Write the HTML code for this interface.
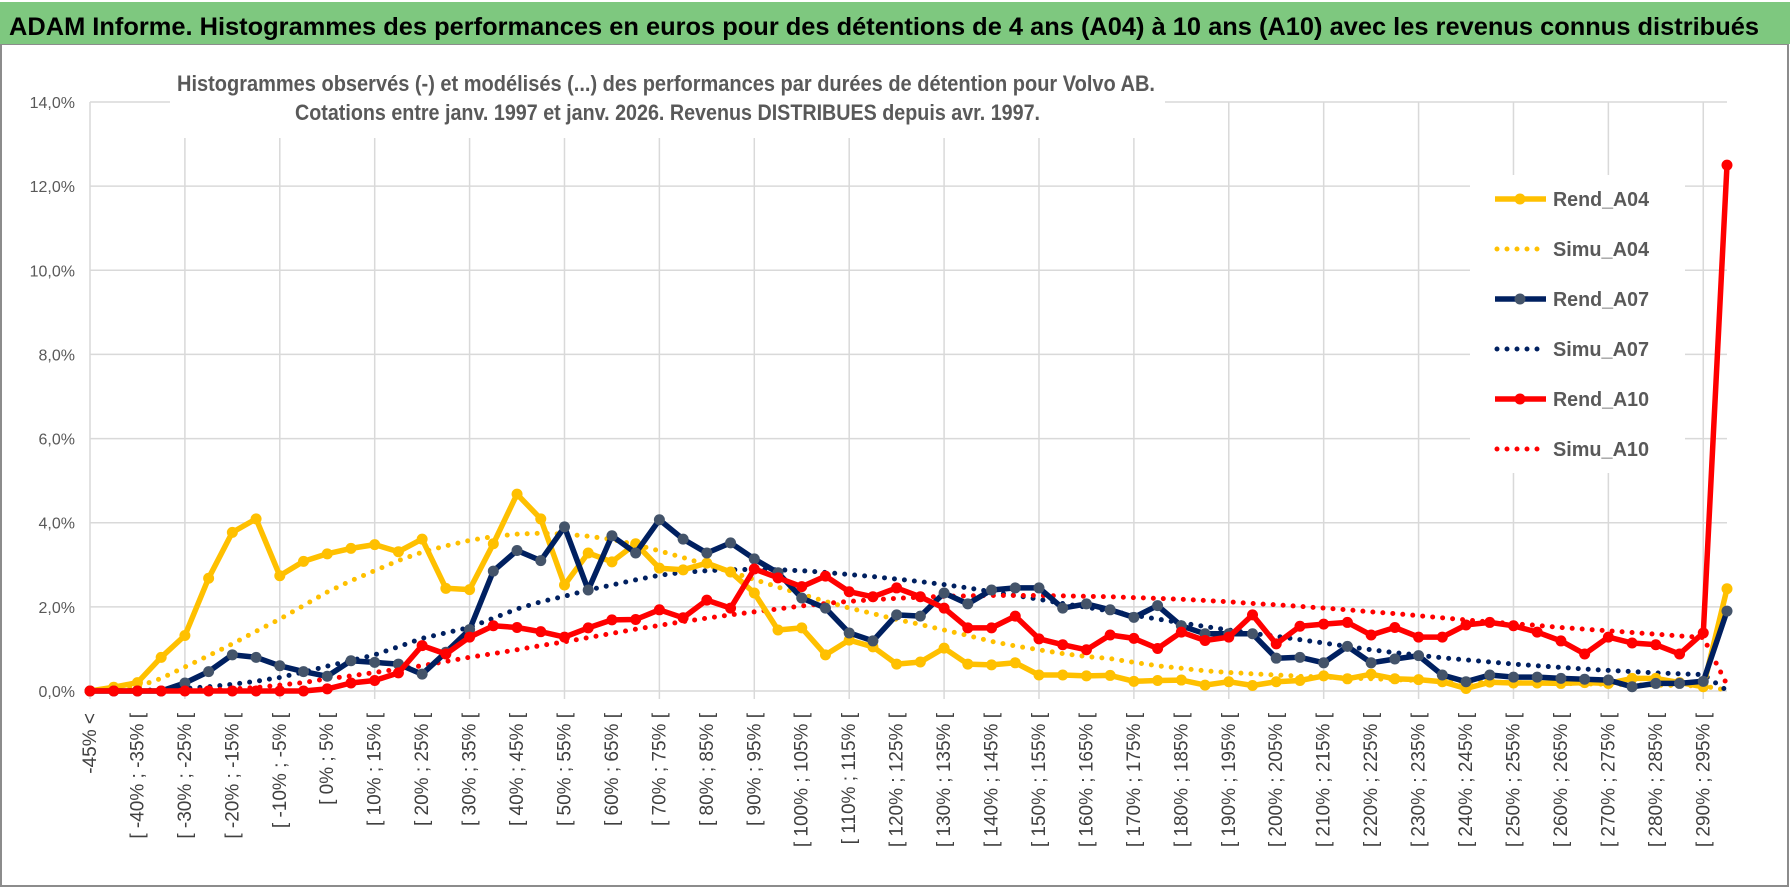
<!DOCTYPE html>
<html><head><meta charset="utf-8">
<style>
html,body{margin:0;padding:0;background:#fff;}
svg{display:block;font-family:"Liberation Sans",sans-serif;}
</style></head>
<body>
<svg id="chart" width="1790" height="888" viewBox="0 0 1790 888">
  <rect x="0" y="0" width="1790" height="888" fill="#fff"/>
  <rect x="1" y="44" width="1787" height="842" fill="#fff" stroke="#8c8c8c" stroke-width="2"/>
  <rect x="0" y="2" width="1790" height="42" fill="#7ec87f"/>
  <text x="9" y="35" font-size="25" font-weight="bold" fill="#000" textLength="1750" lengthAdjust="spacingAndGlyphs">ADAM Informe. Histogrammes des performances en euros pour des détentions de 4 ans (A04) à 10 ans (A10) avec les revenus connus distribués</text>
  <g id="grid"></g>
  <rect x="170" y="72" width="995" height="66" fill="#fff"/>
  <text x="177" y="91" font-size="22" font-weight="bold" fill="#595959" textLength="978" lengthAdjust="spacingAndGlyphs">Histogrammes observés (-) et modélisés (...) des performances par durées de détention pour Volvo AB.</text>
  <text x="295" y="120" font-size="22" font-weight="bold" fill="#595959" textLength="745" lengthAdjust="spacingAndGlyphs">Cotations entre janv. 1997 et janv. 2026. Revenus DISTRIBUES depuis avr. 1997.</text>
  <g id="yaxis"></g>
  <g id="xaxis"></g>
  <g id="series"></g>
  <rect x="1470" y="175" width="215" height="298" fill="#fff"/>
  <g id="legend"></g>
</svg>
<script>
const rendA04 = [0,0.09,0.2,0.8,1.32,2.68,3.77,4.09,2.74,3.08,3.26,3.39,3.48,3.31,3.61,2.44,2.41,3.5,4.68,4.09,2.52,3.28,3.07,3.5,2.92,2.88,3.04,2.83,2.33,1.45,1.5,0.86,1.21,1.05,0.64,0.69,1.02,0.64,0.62,0.67,0.38,0.38,0.36,0.37,0.23,0.25,0.26,0.14,0.22,0.13,0.22,0.25,0.36,0.29,0.4,0.29,0.27,0.22,0.06,0.21,0.19,0.19,0.18,0.2,0.18,0.3,0.3,0.2,0.1,2.43];
const simuA04 = [0,0.03,0.1,0.3,0.57,0.84,1.12,1.42,1.71,2.03,2.35,2.62,2.86,3.1,3.3,3.45,3.58,3.67,3.73,3.75,3.73,3.68,3.6,3.48,3.33,3.17,3.0,2.83,2.65,2.47,2.3,2.13,1.97,1.84,1.7,1.58,1.45,1.32,1.18,1.07,0.98,0.89,0.82,0.77,0.68,0.6,0.54,0.48,0.44,0.41,0.38,0.35,0.33,0.31,0.29,0.27,0.25,0.24,0.22,0.21,0.2,0.19,0.18,0.17,0.16,0.15,0.14,0.13,0.12,0.02];
const rendA07 = [0,0,0,0,0.19,0.46,0.86,0.8,0.6,0.46,0.35,0.72,0.68,0.64,0.4,0.92,1.46,2.85,3.34,3.1,3.9,2.4,3.69,3.28,4.07,3.61,3.28,3.52,3.14,2.81,2.21,1.97,1.38,1.19,1.81,1.78,2.33,2.07,2.4,2.45,2.45,1.97,2.07,1.93,1.75,2.03,1.55,1.36,1.36,1.36,0.78,0.8,0.67,1.06,0.67,0.76,0.84,0.38,0.22,0.38,0.33,0.33,0.3,0.28,0.26,0.1,0.18,0.18,0.23,1.9];
const simuA07 = [0,0,0.01,0.03,0.06,0.1,0.16,0.23,0.32,0.45,0.59,0.72,0.86,1.05,1.25,1.38,1.51,1.73,1.95,2.12,2.25,2.4,2.52,2.64,2.75,2.82,2.86,2.88,2.89,2.88,2.86,2.82,2.77,2.72,2.66,2.6,2.53,2.45,2.36,2.27,2.18,2.08,1.99,1.9,1.8,1.71,1.62,1.53,1.45,1.37,1.3,1.22,1.14,1.06,0.98,0.91,0.85,0.79,0.74,0.69,0.64,0.6,0.56,0.52,0.49,0.46,0.43,0.41,0.39,0.01];
const rendA10 = [0,0,0,0,0,0,0,0,0,0,0.05,0.19,0.25,0.43,1.08,0.88,1.28,1.55,1.51,1.41,1.28,1.5,1.69,1.7,1.93,1.74,2.16,1.97,2.9,2.69,2.48,2.73,2.36,2.24,2.45,2.24,1.97,1.5,1.5,1.78,1.24,1.1,0.98,1.33,1.25,1.01,1.4,1.2,1.28,1.81,1.12,1.54,1.59,1.63,1.33,1.51,1.28,1.28,1.57,1.63,1.55,1.4,1.19,0.88,1.28,1.14,1.1,0.88,1.38,12.5];
const simuA10 = [0,0,0,0.01,0.02,0.03,0.05,0.08,0.14,0.2,0.29,0.36,0.44,0.52,0.6,0.7,0.8,0.89,0.98,1.08,1.17,1.27,1.37,1.47,1.56,1.65,1.73,1.81,1.88,1.95,2.02,2.08,2.13,2.17,2.2,2.23,2.25,2.26,2.27,2.27,2.27,2.26,2.25,2.24,2.22,2.2,2.18,2.15,2.12,2.08,2.05,2.01,1.97,1.93,1.88,1.84,1.79,1.74,1.69,1.64,1.6,1.56,1.51,1.47,1.43,1.39,1.35,1.31,1.27,0.15];
const yTicks = [0,2,4,6,8,10,12,14];
const yTickLabels = ["0,0%","2,0%","4,0%","6,0%","8,0%","10,0%","12,0%","14,0%"];
const categories = (function(){const c=["-45% <"];for(let n=1;n<70;n++){const a=-45+5*(n-1);c.push("[ "+a+"% ; "+(a+5)+"% [");}return c;})();

const NS="http://www.w3.org/2000/svg";
const X0=90, X1=1727, Y0=691, YTOP=102;
function xPos(i){return X0+i*(X1-X0)/(categories.length-1);}
function yPos(v){return Y0-(v/14)*(Y0-YTOP);}
function mk(tag,attrs,parent){const e=document.createElementNS(NS,tag);for(const k in attrs)e.setAttribute(k,attrs[k]);parent.appendChild(e);return e;}

const grid=document.getElementById('grid');
for(const t of yTicks){
  const g=mk('line',{x1:X0,x2:X1,y1:yPos(t),y2:yPos(t),stroke:'#d9d9d9','stroke-width':1.5},grid);
  
  
}
for(let i=0;i<categories.length;i+=4){
  const g=mk('line',{x1:xPos(i),x2:xPos(i),y1:YTOP,y2:Y0+8,stroke:'#d9d9d9','stroke-width':1.5},grid);
  
  
}
const yax=document.getElementById('yaxis');
yTicks.forEach((t,k)=>{
  const tx=mk('text',{x:75,y:yPos(t)+6,'text-anchor':'end','font-size':16,fill:'#595959'},yax);
  tx.textContent=yTickLabels[k];
  
  
});
const xax=document.getElementById('xaxis');
for(let i=0;i<categories.length;i+=2){
  const x=xPos(i)+6;
  const tx=mk('text',{x:x,y:713,'text-anchor':'end','font-size':19,fill:'#404040',transform:'rotate(-90 '+x+' 713)'},xax);
  tx.textContent=categories[i];
  
  
}
const ser=document.getElementById('series');
function pts(arr){return arr.map((v,i)=>xPos(i).toFixed(1)+','+yPos(v).toFixed(1)).join(' ');}
function dotted(arr,color,name){
  const p=mk('polyline',{points:pts(arr),fill:'none',stroke:color,'stroke-width':5,'stroke-linecap':'round','stroke-dasharray':'0 10'},ser);
  
  
}
function solid(arr,color,mcolor,name){
  const g=mk('g',{},ser);
  
  
  const p=mk('polyline',{points:pts(arr),fill:'none',stroke:color,'stroke-width':5.5,'stroke-linejoin':'round'},g);
  
  
  arr.forEach((v,i)=>{
    const c=mk('circle',{cx:xPos(i),cy:yPos(v),r:5.5,fill:mcolor},g);
    
    
  });
}
dotted(simuA04,'#ffc000','simu-a04');
dotted(simuA07,'#002060','simu-a07');
dotted(simuA10,'#ff0000','simu-a10');
solid(rendA04,'#ffc000','#ffc000','rend-a04');
solid(rendA07,'#002060','#44546a','rend-a07');
solid(rendA10,'#ff0000','#ff0000','rend-a10');

const leg=document.getElementById('legend');
const legendItems=[["Rend_A04","#ffc000","#ffc000",false],["Simu_A04","#ffc000",null,true],["Rend_A07","#002060","#44546a",false],["Simu_A07","#002060",null,true],["Rend_A10","#ff0000","#ff0000",false],["Simu_A10","#ff0000",null,true]];
legendItems.forEach((it,k)=>{
  const y=199+k*50;
  const g=mk('g',{},leg);
  
  
  if(it[3]){
    mk('line',{x1:1497,x2:1545,y1:y,y2:y,stroke:it[1],'stroke-width':5,'stroke-linecap':'round','stroke-dasharray':'0 10'},g);
  }else{
    mk('line',{x1:1495,x2:1546,y1:y,y2:y,stroke:it[1],'stroke-width':5.5},g);
    mk('circle',{cx:1520,cy:y,r:5.5,fill:it[2]},g);
  }
  const t=mk('text',{x:1553,y:y+7,'font-size':20,'font-weight':'bold',fill:'#595959',textLength:96,lengthAdjust:'spacingAndGlyphs'},g);
  t.textContent=it[0];
});
</script>
</body></html>
